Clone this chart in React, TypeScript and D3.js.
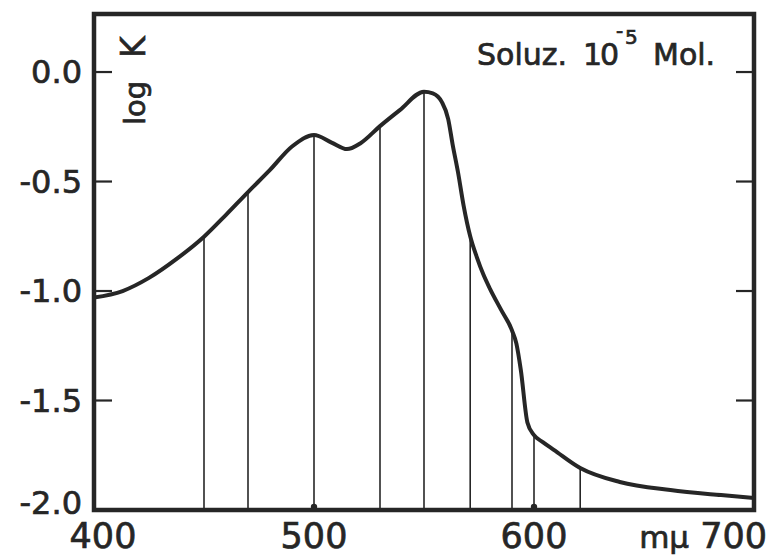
import React from 'react';
import * as d3 from 'd3';

// wavelength (mμ) and log K
const wavelengths = [
  400, 413, 425, 438, 450, 460, 470, 480, 490, 500, 508, 515, 521, 530, 539,
  550, 554, 558, 561, 563, 565.5, 568, 571, 574, 577, 580, 585, 590, 592, 594,
  597, 600, 604, 609, 621, 639, 662, 685, 700,
];
const logK = [
  -1.03, -1.0, -0.94, -0.85, -0.752, -0.652, -0.548, -0.447, -0.34, -0.288,
  -0.322, -0.352, -0.326, -0.247, -0.174, -0.09, -0.097, -0.135, -0.215, -0.33,
  -0.46, -0.61, -0.75, -0.845, -0.925, -0.99, -1.085, -1.18, -1.24, -1.36, -1.6,
  -1.658, -1.69, -1.725, -1.808, -1.872, -1.909, -1.932, -1.945,
];
// wavelengths where a vertical line drops to the axis
const dropLines = [450, 470, 500, 530, 550, 571, 590, 600, 621];

const xTicks = [400, 500, 600, 700];
const yTicks = [0, -0.5, -1, -1.5, -2];

const ink = '#262626';
const font = '"DejaVu Sans", sans-serif';

function App() {
  const left = 94;
  const right = 754;
  const top = 14;
  const bottom = 510;

  const x = d3.scaleLinear().domain([400, 700]).range([left, right]);
  const y = d3.scaleLinear().domain([-2, 0.265]).range([bottom, top]);

  const points = wavelengths.map((w, i) => ({ w, v: logK[i] }));
  const line = d3
    .line<{ w: number; v: number }>()
    .x((d) => x(d.w))
    .y((d) => y(d.v))
    .curve(d3.curveMonotoneX);

  const valueAt = (w: number) => points.find((p) => p.w === w)!.v;

  // slightly heavier lettering, like the printed figure
  const heavy = { stroke: ink, strokeWidth: 0.7 };

  return (
    <svg
      width={773}
      height={557}
      style={{ position: 'absolute', left: 0, top: 0, background: '#fff' }}
      fontFamily={font}
      fill={ink}
    >
      {dropLines.map((w) => (
        <line
          key={w}
          x1={x(w)}
          x2={x(w)}
          y1={y(valueAt(w))}
          y2={bottom}
          stroke={ink}
          strokeWidth={1.6}
        />
      ))}
      {xTicks.slice(1, -1).map((t) => (
        <circle key={t} cx={x(t)} cy={bottom - 3} r={3.2} fill={ink} />
      ))}

      <path
        d={line(points) ?? ''}
        fill="none"
        stroke={ink}
        strokeWidth={4}
        strokeLinejoin="round"
        strokeLinecap="round"
      />

      <rect
        x={left}
        y={top}
        width={right - left}
        height={bottom - top}
        fill="none"
        stroke={ink}
        strokeWidth={4.5}
      />

      {yTicks.slice(0, -1).map((t) => (
        <g key={t}>
          <line x1={left} x2={left + 18} y1={y(t)} y2={y(t)} stroke={ink} strokeWidth={2.2} />
          <line x1={right - 18} x2={right} y1={y(t)} y2={y(t)} stroke={ink} strokeWidth={2.2} />
        </g>
      ))}

      <g {...heavy}>
        {yTicks.map((t) => (
          <text
            key={t}
            x={82}
            y={y(t) + (t === -2 ? -7 : 0)}
            textAnchor="end"
            dominantBaseline="central"
            fontSize={32}
          >
            {d3.format('.1f')(t).replace('\u2212', '-')}
          </text>
        ))}

        {xTicks.slice(0, -1).map((t, i) => (
          <text
            key={t}
            x={x(t) + (i === 0 ? 9 : 0)}
            y={548}
            textAnchor="middle"
            fontSize={35}
          >
            {t}
          </text>
        ))}
        <text x={767} y={548} textAnchor="end" fontSize={35}>
          <tspan fontSize={31}>{'m\u03bc'}</tspan> {xTicks[xTicks.length - 1]}
        </text>

        <g transform="translate(145,125) rotate(-90)">
          <text x={0} y={0} fontSize={29}>log</text>
          <text x={67} y={0} fontSize={33}>K</text>
        </g>

        <text x={477} y={65} fontSize={30}>Soluz.</text>
        <text x={583} y={65} fontSize={30} letterSpacing={-2}>10</text>
        <text x={616} y={38} fontSize={20}>-</text>
        <text x={625} y={44} fontSize={20}>5</text>
        <text x={653} y={65} fontSize={30}>Mol.</text>
      </g>
    </svg>
  );
}

export default App;
